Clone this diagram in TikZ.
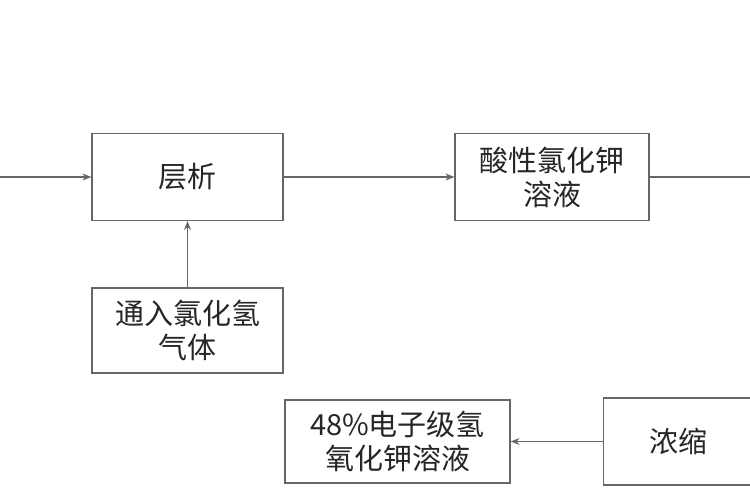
\documentclass[tikz,border=0pt]{standalone}
\usepackage{fontspec}
\newfontfamily\cjk{Noto Sans CJK SC}
\usetikzlibrary{arrows.meta}
\begin{document}
\begin{tikzpicture}[x=1pt,y=-1pt,
  box/.style={draw=black!60,line width=1.2pt,fill=white,inner sep=0pt,align=center,font=\cjk\fontsize{29}{34}\selectfont,text=black!85},
  conn/.style={draw=black!60,line width=1.2pt,-{Stealth[length=9pt,width=7pt]}}]
\useasboundingbox (0,0) rectangle (750,500);
\clip (0,0) rectangle (750,500);
\node[box,minimum width=191pt,minimum height=87pt] (a) at (187.5,177) {层析};
\node[box,minimum width=194pt,minimum height=87pt] (b) at (552,177) {酸性氯化钾\\溶液};
\node[box,minimum width=191pt,minimum height=85pt] (c) at (187.5,330.5) {通入氯化氢\\气体};
\node[box,minimum width=225pt,minimum height=83pt] (d) at (397.5,441.5) {48\%电子级氢\\氧化钾溶液};
\node[box,minimum width=200pt,minimum height=87pt,anchor=west] (e) at (603,441.5) {\hspace*{-50pt}浓缩};
\coordinate (l) at (-5,177);
\coordinate (r) at (760,177);
\draw[conn] (l) -- (a.west);
\draw[conn] (a.east) -- (b.west);
\draw[draw=black!60,line width=1.2pt] (b.east) -- (r);
\draw[conn] (c.north) -- (a.south);
\draw[conn] (e.west) -- (d.east);
\end{tikzpicture}
\end{document}
